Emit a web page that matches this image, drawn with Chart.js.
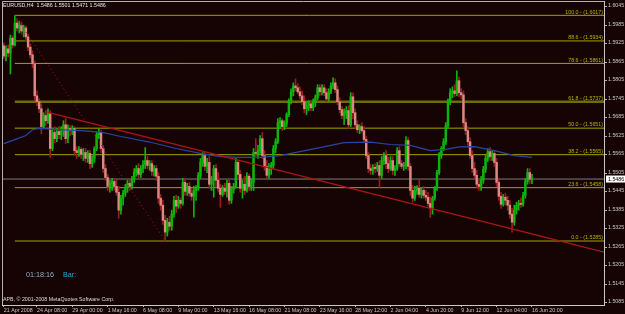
<!DOCTYPE html>
<html><head><meta charset="utf-8">
<script src="https://cdn.jsdelivr.net/npm/chart.js@4.4.1/dist/chart.umd.min.js"></script>
<style>html,body{margin:0;padding:0;background:#160404;overflow:hidden}canvas{display:block}</style>
</head><body>
<canvas id="c" width="625" height="314"></canvas>
<script>
// ---------- data ----------
const symbolTitle = 'EURUSD,H4';
const lastBar = [1.5486, 1.5501, 1.5471, 1.5486];
const countdown = '01:18:16';
const countdownTag = 'Bar:';
const copyright = 'APB, \u00A9 2001-2008 MetaQuotes Software Corp.';

const open = [
1.5918,1.5885,1.5908,1.5895,1.5943,1.5921,1.5992,1.5976,1.5985,1.5966,
1.5976,1.5947,1.5914,1.5889,1.5860,1.5756,1.5737,1.5714,1.5656,1.5692,
1.5675,1.5698,1.5585,1.5637,1.5617,1.5640,1.5630,1.5643,1.5662,1.5617,
1.5650,1.5643,1.5650,1.5578,1.5572,1.5582,1.5566,1.5572,1.5553,1.5569,
1.5536,1.5553,1.5585,1.5630,1.5637,1.5585,1.5520,1.5491,1.5462,1.5472,
1.5478,1.5462,1.5443,1.5385,1.5424,1.5440,1.5459,1.5472,1.5462,1.5485,
1.5507,1.5520,1.5501,1.5520,1.5533,1.5546,1.5530,1.5536,1.5511,1.5520,
1.5495,1.5424,1.5401,1.5352,1.5314,1.5346,1.5333,1.5372,1.5417,1.5398,
1.5417,1.5407,1.5475,1.5446,1.5462,1.5440,1.5430,1.5449,1.5456,1.5498,
1.5540,1.5562,1.5527,1.5540,1.5469,1.5482,1.5520,1.5482,1.5456,1.5436,
1.5456,1.5446,1.5472,1.5417,1.5453,1.5462,1.5540,1.5501,1.5456,1.5469,
1.5449,1.5495,1.5462,1.5475,1.5572,1.5569,1.5578,1.5617,1.5562,1.5527,
1.5498,1.5520,1.5530,1.5585,1.5607,1.5669,1.5675,1.5656,1.5666,1.5695,
1.5740,1.5769,1.5788,1.5782,1.5769,1.5756,1.5737,1.5714,1.5724,1.5730,
1.5717,1.5737,1.5750,1.5782,1.5769,1.5782,1.5766,1.5746,1.5769,1.5788,
1.5798,1.5776,1.5737,1.5711,1.5692,1.5701,1.5708,1.5662,1.5753,1.5701,
1.5662,1.5646,1.5656,1.5643,1.5614,1.5562,1.5520,1.5514,1.5524,1.5520,
1.5530,1.5498,1.5546,1.5562,1.5536,1.5520,1.5546,1.5514,1.5520,1.5578,
1.5536,1.5527,1.5530,1.5611,1.5527,1.5449,1.5424,1.5449,1.5456,1.5436,
1.5449,1.5433,1.5427,1.5407,1.5391,1.5424,1.5456,1.5507,1.5562,1.5585,
1.5607,1.5659,1.5737,1.5766,1.5772,1.5763,1.5805,1.5766,1.5759,1.5669,
1.5643,1.5607,1.5562,1.5520,1.5498,1.5469,1.5462,1.5482,1.5517,1.5553,
1.5575,1.5559,1.5569,1.5540,1.5475,1.5430,1.5404,1.5427,1.5417,1.5401,
1.5372,1.5346,1.5385,1.5401,1.5407,1.5404,1.5433,1.5478,1.5507,1.5486];

const high = [
1.5927,1.5918,1.5921,1.5953,1.5950,1.6017,1.6005,1.5998,1.5995,1.5985,
1.5982,1.5956,1.5924,1.5902,1.5869,1.5772,1.5746,1.5730,1.5701,1.5708,
1.5714,1.5708,1.5650,1.5656,1.5650,1.5656,1.5656,1.5675,1.5682,1.5662,
1.5659,1.5659,1.5656,1.5591,1.5591,1.5588,1.5585,1.5585,1.5578,1.5578,
1.5562,1.5591,1.5637,1.5650,1.5643,1.5595,1.5533,1.5501,1.5482,1.5488,
1.5488,1.5482,1.5462,1.5433,1.5449,1.5469,1.5482,1.5488,1.5495,1.5520,
1.5530,1.5536,1.5530,1.5546,1.5588,1.5559,1.5546,1.5546,1.5530,1.5530,
1.5507,1.5436,1.5417,1.5368,1.5359,1.5365,1.5385,1.5430,1.5433,1.5430,
1.5424,1.5488,1.5488,1.5472,1.5475,1.5456,1.5462,1.5465,1.5507,1.5553,
1.5572,1.5572,1.5553,1.5559,1.5495,1.5530,1.5533,1.5507,1.5469,1.5465,
1.5472,1.5482,1.5482,1.5462,1.5472,1.5553,1.5546,1.5514,1.5482,1.5495,
1.5507,1.5501,1.5488,1.5585,1.5617,1.5595,1.5627,1.5637,1.5578,1.5546,
1.5536,1.5540,1.5595,1.5617,1.5682,1.5685,1.5682,1.5675,1.5701,1.5746,
1.5779,1.5798,1.5811,1.5795,1.5785,1.5772,1.5756,1.5734,1.5740,1.5740,
1.5746,1.5759,1.5792,1.5792,1.5792,1.5792,1.5779,1.5779,1.5798,1.5814,
1.5811,1.5788,1.5750,1.5721,1.5714,1.5721,1.5724,1.5766,1.5766,1.5714,
1.5675,1.5662,1.5669,1.5656,1.5624,1.5572,1.5533,1.5533,1.5536,1.5540,
1.5546,1.5559,1.5572,1.5578,1.5556,1.5559,1.5559,1.5530,1.5588,1.5591,
1.5546,1.5540,1.5624,1.5620,1.5536,1.5465,1.5462,1.5465,1.5482,1.5459,
1.5462,1.5449,1.5443,1.5427,1.5430,1.5462,1.5514,1.5572,1.5591,1.5617,
1.5669,1.5746,1.5779,1.5785,1.5792,1.5837,1.5817,1.5779,1.5772,1.5682,
1.5656,1.5620,1.5578,1.5540,1.5514,1.5488,1.5495,1.5527,1.5562,1.5585,
1.5588,1.5578,1.5578,1.5553,1.5488,1.5443,1.5436,1.5440,1.5430,1.5417,
1.5391,1.5401,1.5411,1.5417,1.5424,1.5443,1.5488,1.5520,1.5520,1.5501];

const low = [
1.5876,1.5869,1.5882,1.5827,1.5911,1.5918,1.5966,1.5960,1.5956,1.5947,
1.5934,1.5902,1.5879,1.5847,1.5740,1.5724,1.5701,1.5633,1.5650,1.5659,
1.5666,1.5556,1.5578,1.5604,1.5607,1.5617,1.5614,1.5624,1.5601,1.5604,
1.5627,1.5630,1.5562,1.5553,1.5559,1.5553,1.5546,1.5540,1.5540,1.5520,
1.5524,1.5540,1.5578,1.5617,1.5572,1.5507,1.5482,1.5449,1.5443,1.5449,
1.5449,1.5433,1.5359,1.5372,1.5401,1.5430,1.5443,1.5449,1.5453,1.5475,
1.5495,1.5488,1.5491,1.5507,1.5520,1.5520,1.5514,1.5498,1.5495,1.5482,
1.5407,1.5385,1.5339,1.5285,1.5301,1.5320,1.5320,1.5362,1.5378,1.5391,
1.5391,1.5401,1.5433,1.5433,1.5430,1.5417,1.5362,1.5417,1.5449,1.5488,
1.5527,1.5514,1.5507,1.5456,1.5449,1.5427,1.5462,1.5443,1.5394,1.5430,
1.5436,1.5427,1.5404,1.5407,1.5440,1.5456,1.5488,1.5443,1.5424,1.5436,
1.5443,1.5449,1.5449,1.5449,1.5559,1.5553,1.5569,1.5553,1.5514,1.5488,
1.5488,1.5501,1.5520,1.5572,1.5601,1.5650,1.5643,1.5646,1.5656,1.5688,
1.5730,1.5756,1.5772,1.5763,1.5746,1.5727,1.5701,1.5695,1.5708,1.5708,
1.5708,1.5721,1.5743,1.5756,1.5759,1.5756,1.5737,1.5740,1.5763,1.5779,
1.5766,1.5727,1.5701,1.5682,1.5662,1.5682,1.5650,1.5656,1.5682,1.5650,
1.5637,1.5633,1.5637,1.5604,1.5553,1.5507,1.5501,1.5501,1.5507,1.5511,
1.5459,1.5488,1.5533,1.5520,1.5507,1.5514,1.5501,1.5498,1.5514,1.5527,
1.5520,1.5514,1.5520,1.5514,1.5433,1.5411,1.5417,1.5436,1.5427,1.5424,
1.5424,1.5417,1.5398,1.5362,1.5372,1.5417,1.5449,1.5501,1.5553,1.5578,
1.5598,1.5650,1.5727,1.5750,1.5753,1.5756,1.5753,1.5746,1.5656,1.5630,
1.5595,1.5553,1.5507,1.5488,1.5456,1.5449,1.5449,1.5472,1.5507,1.5543,
1.5546,1.5546,1.5527,1.5462,1.5417,1.5391,1.5398,1.5401,1.5385,1.5359,
1.5314,1.5336,1.5372,1.5385,1.5394,1.5398,1.5424,1.5469,1.5472,1.5471];

const close = [
1.5885,1.5908,1.5895,1.5943,1.5921,1.5992,1.5976,1.5985,1.5966,1.5976,
1.5947,1.5914,1.5889,1.5860,1.5756,1.5737,1.5714,1.5656,1.5692,1.5675,
1.5698,1.5585,1.5637,1.5617,1.5640,1.5630,1.5643,1.5662,1.5617,1.5650,
1.5643,1.5650,1.5578,1.5572,1.5582,1.5566,1.5572,1.5553,1.5569,1.5536,
1.5553,1.5585,1.5630,1.5637,1.5585,1.5520,1.5491,1.5462,1.5472,1.5478,
1.5462,1.5443,1.5385,1.5424,1.5440,1.5459,1.5472,1.5462,1.5485,1.5507,
1.5520,1.5501,1.5520,1.5533,1.5546,1.5530,1.5536,1.5511,1.5520,1.5495,
1.5424,1.5401,1.5352,1.5314,1.5346,1.5333,1.5372,1.5417,1.5398,1.5417,
1.5407,1.5475,1.5446,1.5462,1.5440,1.5430,1.5449,1.5456,1.5498,1.5540,
1.5562,1.5527,1.5540,1.5469,1.5482,1.5520,1.5482,1.5456,1.5436,1.5456,
1.5446,1.5472,1.5417,1.5453,1.5462,1.5540,1.5501,1.5456,1.5469,1.5449,
1.5495,1.5462,1.5475,1.5572,1.5569,1.5578,1.5617,1.5562,1.5527,1.5498,
1.5520,1.5530,1.5585,1.5607,1.5669,1.5675,1.5656,1.5666,1.5695,1.5740,
1.5769,1.5788,1.5782,1.5769,1.5756,1.5737,1.5714,1.5724,1.5730,1.5717,
1.5737,1.5750,1.5782,1.5769,1.5782,1.5766,1.5746,1.5769,1.5788,1.5798,
1.5776,1.5737,1.5711,1.5692,1.5701,1.5708,1.5662,1.5753,1.5701,1.5662,
1.5646,1.5656,1.5643,1.5614,1.5562,1.5520,1.5514,1.5524,1.5520,1.5530,
1.5498,1.5546,1.5562,1.5536,1.5520,1.5546,1.5514,1.5520,1.5578,1.5536,
1.5527,1.5530,1.5611,1.5527,1.5449,1.5424,1.5449,1.5456,1.5436,1.5449,
1.5433,1.5427,1.5407,1.5391,1.5424,1.5456,1.5507,1.5562,1.5585,1.5607,
1.5659,1.5737,1.5766,1.5772,1.5763,1.5805,1.5766,1.5759,1.5669,1.5643,
1.5607,1.5562,1.5520,1.5498,1.5469,1.5462,1.5482,1.5517,1.5553,1.5575,
1.5559,1.5569,1.5540,1.5475,1.5430,1.5404,1.5427,1.5417,1.5401,1.5372,
1.5346,1.5385,1.5401,1.5407,1.5404,1.5433,1.5478,1.5507,1.5485,1.5486];

// time axis labels and the bar each one belongs to
const timeLabels = ['21 Apr 2008','24 Apr 08:00','29 Apr 00:00','1 May 16:00','6 May 08:00','9 May 00:00',
  '13 May 16:00','16 May 08:00','21 May 08:00','23 May 16:00','28 May 12:00','2 Jun 04:00',
  '4 Jun 20:00','9 Jun 12:00','12 Jun 04:00','16 Jun 20:00'];
const labelBars = [0,15,31,47,63,79,95,111,127,143,159,175,191,207,223,239];

// price axis tick labels
const priceTicks = [1.5085,1.5145,1.5205,1.5265,1.5325,1.5385,1.5445,1.5505,1.5565,1.5625,
  1.5685,1.5745,1.5805,1.5865,1.5925,1.5985,1.6045];

// Fibonacci retracement (anchors and levels as labelled)
const fibNames  = ['0.0','23.6','38.2','50.0','61.8','78.6','88.6','100.0'];
const fibPrices = [1.5285,1.5458,1.5565,1.5651,1.5737,1.5861,1.5934,1.6017];
const fibAnchorBars = [5, 73];
const fibAnchorPrices = [1.6017, 1.5285];

// moving average
const maBars   = [0,5,10,13,16,25,35,44,53,66,78,89,98,107,116,125,134,143,154,166,175,184,193,200,206,213,222,231,239];
const maValues = [1.5601,1.5614,1.5627,1.5646,1.5650,1.5646,1.5643,1.5638,1.5624,1.5606,1.5585,1.5569,1.5559,1.5556,
  1.5556,1.5562,1.5575,1.5588,1.5604,1.5606,1.5598,1.5595,1.5578,1.5582,1.5590,1.5591,1.5578,1.5562,1.5556];

// trend line (ray) anchors
const trendBars = [20, 230];
const trendPrices = [1.5702, 1.5324];

const lastPrice = 1.5486;

// ---------- styling ----------
const BG = '#160404';
const FONT = '"Liberation Sans", Arial, sans-serif';
const AXIS_TXT = '#c8c8c8';
const X_MIN = -0.81, X_MAX = 271.6;
const Y_MIN = 1.50774, Y_MAX = 1.60635;
const BULL = '#0cb40c', BEAR_BODY = '#d98a84', BEAR_WICK = '#9a1c1c';
const FIB_COL = '#a3a300', FIB_DARK = '#6e6e00';

const idx = open.map((_, i) => i);
const isBull = i => close[i] >= open[i];
const wickData = idx.map(i => ({x: i, y: [Math.min(low[i], open[i], close[i]), Math.max(high[i], open[i], close[i])]}));
const bodyData = idx.map(i => ({x: i, y: [open[i], close[i]]}));

const datasets = [];
fibPrices.forEach((p, k) => {
  const is618 = fibNames[k] === '61.8';
  datasets.push({type: 'line', data: [{x: fibAnchorBars[0], y: p}, {x: X_MAX, y: p}],
    borderColor: is618 ? FIB_DARK : FIB_COL, borderWidth: is618 ? 2.5 : 1, pointRadius: 0, order: 10});
});
datasets.push({type: 'line', data: [{x: X_MIN, y: lastPrice}, {x: X_MAX, y: lastPrice}],
  borderColor: '#7c7c7c', borderWidth: 1, pointRadius: 0, order: 9});
datasets.push({type: 'bar', data: wickData, backgroundColor: idx.map(i => isBull(i) ? BULL : BEAR_WICK),
  barThickness: 1, grouped: false, borderWidth: 0, order: 5});
datasets.push({type: 'bar', data: bodyData, backgroundColor: idx.map(i => isBull(i) ? BULL : BEAR_BODY),
  barThickness: 1.8, grouped: false, borderWidth: 0, minBarLength: 1, order: 4});
datasets.push({type: 'line', data: maBars.map((b, k) => ({x: b, y: maValues[k]})),
  borderColor: '#2a44a6', borderWidth: 1.2, pointRadius: 0, tension: 0, order: 2});
const slope = (trendPrices[1] - trendPrices[0]) / (trendBars[1] - trendBars[0]);
datasets.push({type: 'line', data: [{x: trendBars[0], y: trendPrices[0]}, {x: trendBars[1], y: trendPrices[1]},
  {x: X_MAX, y: trendPrices[0] + slope * (X_MAX - trendBars[0])}],
  borderColor: '#b01414', borderWidth: 1.3, pointRadius: 0, order: 1});
datasets.push({type: 'line', data: fibAnchorBars.map((b, k) => ({x: b, y: fibAnchorPrices[k]})),
  borderColor: '#b01414', borderWidth: 1, borderDash: [1, 3], pointRadius: 0, order: 1});

const bgPlugin = {id: 'bg', beforeDraw(chart) {
  const c = chart.ctx; c.save(); c.fillStyle = BG; c.fillRect(0, 0, chart.width, chart.height); c.restore();
}};

const overlayPlugin = {id: 'overlay', afterDraw(chart) {
  const c = chart.ctx, a = chart.chartArea, ys = chart.scales.y;
  c.save();
  // frame left/top
  c.strokeStyle = '#b4b4b4'; c.lineWidth = 1;
  c.beginPath(); c.moveTo(a.left + 0.5, a.bottom); c.lineTo(a.left + 0.5, a.top + 0.5); c.lineTo(a.right, a.top + 0.5); c.stroke();
  // fib labels
  c.font = '5.3px ' + FONT; c.fillStyle = '#b4b400'; c.textAlign = 'right'; c.textBaseline = 'bottom';
  fibPrices.forEach((p, k) => {
    c.fillText(fibNames[k] + ' - (' + p.toFixed(4) + ')', a.right - 1, ys.getPixelForValue(p) - 0.5);
  });
  // title
  c.textAlign = 'left'; c.textBaseline = 'middle'; c.fillStyle = '#e6e6e6';
  c.fillText(symbolTitle + '  ' + lastBar.map(v => v.toFixed(4)).join(' '), a.left + 1, 5.5);
  // copyright
  c.fillStyle = '#dcdcdc';
  c.fillText(copyright, a.left + 1, 299.5);
  // countdown
  c.font = '7.2px ' + FONT; c.fillStyle = '#8fb0c8';
  c.fillText(countdown, 26, 275);
  c.fillStyle = '#22aacc';
  c.fillText(countdownTag, 63, 275);
  // current price box
  const py = ys.getPixelForValue(lastPrice);
  c.fillStyle = '#ffffff'; c.fillRect(a.right + 2, py - 3.5, 625 - a.right - 2, 7);
  c.fillStyle = '#000000'; c.font = '5.3px ' + FONT; c.textAlign = 'left'; c.textBaseline = 'middle';
  c.fillText(lastPrice.toFixed(4), a.right + 4, py + 0.3);
  c.restore();
}};

new Chart(document.getElementById('c'), {
  type: 'bar',
  data: {datasets},
  options: {
    responsive: false, animation: false, devicePixelRatio: 1,
    layout: {padding: {left: 2, top: 1, right: 0, bottom: 0}},
    plugins: {legend: {display: false}, tooltip: {enabled: false}},
    scales: {
      x: {
        type: 'linear', min: X_MIN, max: X_MAX, offset: false,
        afterBuildTicks: s => { s.ticks = labelBars.map(v => ({value: v})); },
        afterFit: s => { s.height = 9; s.paddingLeft = 0; s.paddingRight = 0; },
        ticks: {autoSkip: false, maxRotation: 0, minRotation: 0, align: 'start', padding: 0,
          color: AXIS_TXT, font: {family: FONT, size: 5.3},
          callback: v => { const k = labelBars.indexOf(v); return k >= 0 ? timeLabels[k] : ''; }},
        grid: {drawOnChartArea: false, drawTicks: true, tickLength: 2, color: '#b4b4b4', offset: false},
        border: {display: true, color: '#c8c8c8', width: 1}
      },
      y: {
        type: 'linear', position: 'right', min: Y_MIN, max: Y_MAX,
        afterBuildTicks: s => { s.ticks = priceTicks.map(v => ({value: v})); },
        afterFit: s => { s.width = 21; s.paddingTop = 0; s.paddingBottom = 0; },
        ticks: {autoSkip: false, padding: 1, labelOffset: -1, color: AXIS_TXT, font: {family: FONT, size: 5.3},
          callback: v => Number(v).toFixed(4)},
        grid: {drawOnChartArea: false, drawTicks: true, tickLength: 3, color: '#b4b4b4'},
        border: {display: true, color: '#c8c8c8', width: 1}
      }
    }
  },
  plugins: [bgPlugin, overlayPlugin]
});
</script>
</body></html>
